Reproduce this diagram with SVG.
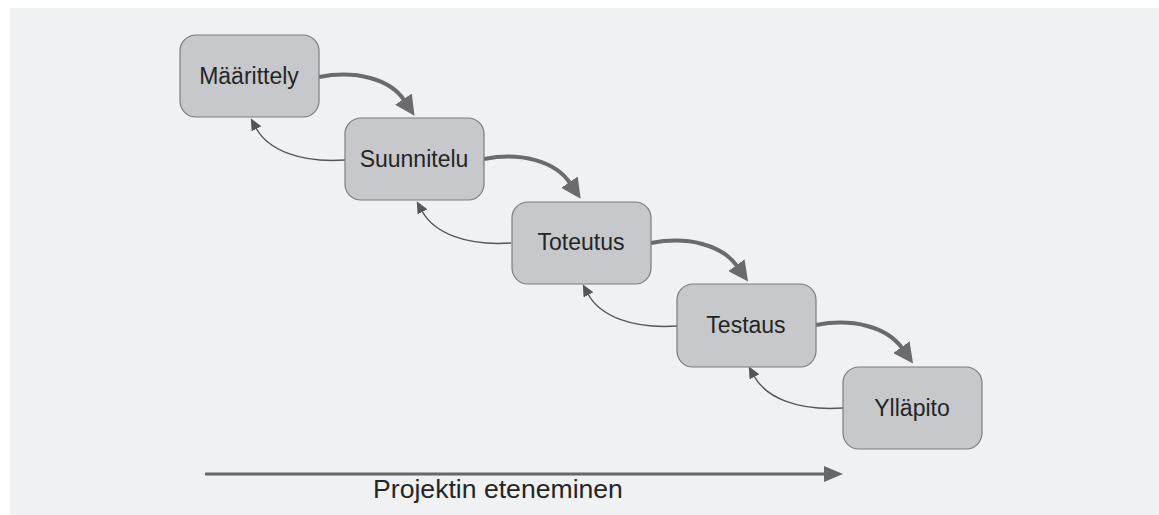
<svg xmlns="http://www.w3.org/2000/svg" width="1159" height="515" viewBox="0 0 1159 515">
  <style>
    .box { fill: #c6c8cc; stroke: #7c7d80; stroke-width: 1.2; }
    .lbl { font-family: "Liberation Sans", Arial, sans-serif; font-size: 23px; fill: #252525; text-anchor: middle; }
    .fwd { fill: none; stroke: #6a6a6f; stroke-width: 4; }
    .back { fill: none; stroke: #55565a; stroke-width: 1.5; }
    .axis { fill: none; stroke: #66676b; stroke-width: 3; }
  </style>
  <defs>
    <marker id="fh" markerUnits="userSpaceOnUse" markerWidth="22" markerHeight="20" refX="1" refY="10" orient="auto">
      <path d="M0,0 L20,10 L0,20 Z" fill="#6a6a6f"/>
    </marker>
    <marker id="bh" markerUnits="userSpaceOnUse" markerWidth="13" markerHeight="11" refX="1" refY="5.5" orient="auto">
      <path d="M0,0 L12,5.5 L0,11 Z" fill="#55565a"/>
    </marker>
    <marker id="ah" markerUnits="userSpaceOnUse" markerWidth="20" markerHeight="16" refX="1" refY="8" orient="auto">
      <path d="M0,0 L19,8 L0,16 Z" fill="#66676b"/>
    </marker>
  </defs>
  <rect x="0" y="0" width="1159" height="515" fill="#ffffff"/>
  <rect x="10" y="8" width="1149" height="507" fill="#f0f1f3"/>

  <g id="connectors">
    <path class="fwd" d="M319,77 C356,70 390,79 404,100" marker-end="url(#fh)"/>
    <path class="fwd" d="M484,159 C521,152 555,161 570,183" marker-end="url(#fh)"/>
    <path class="fwd" d="M651,243 C688,236 722,245 737,266" marker-end="url(#fh)"/>
    <path class="fwd" d="M816,325 C853,318 887,327 902,348" marker-end="url(#fh)"/>
    <path class="back" d="M345,160 C300,163 268,150 256,128" marker-end="url(#bh)"/>
    <path class="back" d="M511,243 C466,246 434,233 422,211" marker-end="url(#bh)"/>
    <path class="back" d="M677,326 C632,329 600,316 588,294" marker-end="url(#bh)"/>
    <path class="back" d="M843,408 C798,411 766,398 754,376" marker-end="url(#bh)"/>
    <path class="axis" d="M205,474 L825,474" marker-end="url(#ah)"/>
  </g>

  <g id="maarittely">
    <rect class="box" x="180" y="35" width="139" height="82" rx="16"/>
    <text class="lbl" x="249" y="84">Määrittely</text>
  </g>
  <g id="suunnitelu">
    <rect class="box" x="345" y="118" width="139" height="82" rx="16"/>
    <text class="lbl" x="414" y="167">Suunnitelu</text>
  </g>
  <g id="toteutus">
    <rect class="box" x="512" y="202" width="139" height="82" rx="16"/>
    <text class="lbl" x="581" y="250">Toteutus</text>
  </g>
  <g id="testaus">
    <rect class="box" x="677" y="284" width="139" height="83" rx="16"/>
    <text class="lbl" x="746" y="333">Testaus</text>
  </g>
  <g id="yllapito">
    <rect class="box" x="843" y="367" width="139" height="82" rx="16"/>
    <text class="lbl" x="912" y="416">Ylläpito</text>
  </g>
  <g id="axis-label">
    <text class="lbl" x="498" y="498" style="font-size:26.6px">Projektin eteneminen</text>
  </g>
</svg>
